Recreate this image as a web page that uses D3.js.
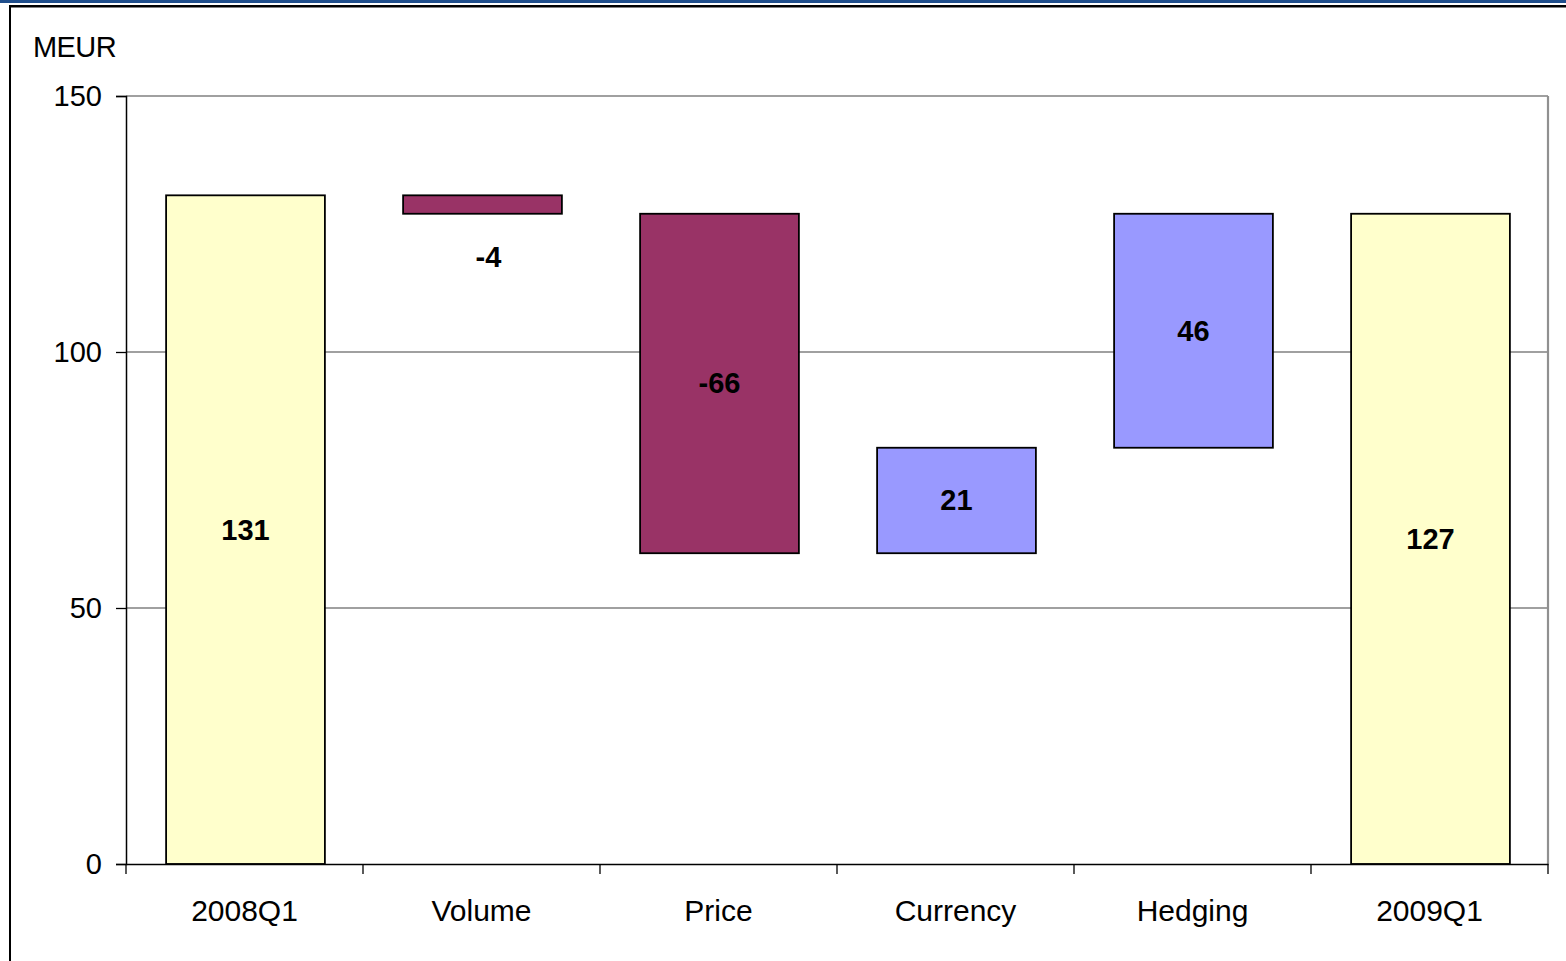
<!DOCTYPE html>
<html>
<head>
<meta charset="utf-8">
<script src="https://cdn.jsdelivr.net/npm/d3@7"></script>
<style>
  html, body { margin: 0; padding: 0; background: #fff; }
  svg { display: block; font-family: "Liberation Sans", Arial, sans-serif; }
</style>
</head>
<body>
<svg id="chart" width="1566" height="961"></svg>
<script>
// waterfall data
const categories = ["2008Q1", "Volume", "Price", "Currency", "Hedging", "2009Q1"]
const kinds = ["total", "delta", "delta", "delta", "delta", "total"]
const values = [130.6, -3.6, -66.3, 20.6, 45.7, 127.0]
const yTicks = [0, 50, 100, 150]

const c_total = "#FFFFCC", c_neg = "#993366", c_pos = "#9999FF"

const svg = d3.select("#chart")
const W = 1566, H = 961
const m = {left: 126, right: 1548, top: 96, bottom: 864}

// frame lines at top / left
svg.append("rect").attr("x", 0).attr("y", 0).attr("width", W).attr("height", 3).attr("fill", "#1f4e8c")
svg.append("rect").attr("x", 9).attr("y", 5).attr("width", W - 9).attr("height", 2.5).attr("fill", "#000")
svg.append("rect").attr("x", 9).attr("y", 5).attr("width", 2).attr("height", H - 5).attr("fill", "#000")

let x = d3.scaleBand().domain(categories).range([m.left, m.right]).paddingInner(0.33).paddingOuter(0.165)
let xTick = d3.scaleBand().domain(categories).range([m.left, m.right])
let y = d3.scaleLinear().domain([0, 150]).range([m.bottom, m.top])

// running totals
let run = 0
const bars = values.map((v, i) => {
  let lo, hi
  if (kinds[i] === "total") { lo = 0; hi = v; run = v }
  else { lo = Math.min(run, run + v); hi = Math.max(run, run + v); run = run + v }
  return {cat: categories[i], kind: kinds[i], v, lo, hi}
})

// gridlines
svg.append("g").selectAll("line").data(yTicks.filter(d => d > 0)).join("line")
  .attr("x1", m.left).attr("x2", m.right)
  .attr("y1", d => y(d)).attr("y2", d => y(d))
  .attr("stroke", "#808080").attr("stroke-width", 1.3)

// right border of plot
svg.append("line").attr("x1", m.right).attr("x2", m.right).attr("y1", m.top).attr("y2", m.bottom)
  .attr("stroke", "#909090").attr("stroke-width", 2.2)

// bars
svg.append("g").selectAll("rect").data(bars).join("rect")
  .attr("x", d => x(d.cat) + 1)
  .attr("width", x.bandwidth())
  .attr("y", d => y(d.hi))
  .attr("height", d => y(d.lo) - y(d.hi))
  .attr("fill", d => d.kind === "total" ? c_total : (d.v < 0 ? c_neg : c_pos))
  .attr("stroke", "#000").attr("stroke-width", 1.8)

// y axis
let yAxis = svg.append("g").attr("transform", `translate(${m.left},0)`)
  .call(d3.axisLeft(y).tickValues(yTicks).tickSize(10).tickPadding(14).tickFormat(d3.format("d")))
yAxis.select(".domain").attr("stroke", "#000").attr("stroke-width", 1.5)
yAxis.selectAll(".tick line").attr("stroke", "#000").attr("stroke-width", 1.3)
yAxis.selectAll("text").attr("font-size", 29).attr("fill", "#000").attr("font-family", "Liberation Sans, Arial, sans-serif")

// x axis
let xAxis = svg.append("g").attr("transform", `translate(0,${m.bottom})`)
  .call(d3.axisBottom(xTick).tickSize(0).tickPadding(36))
xAxis.select(".domain").attr("stroke", "#000").attr("stroke-width", 1.5)
xAxis.selectAll("text").attr("font-size", 30).attr("fill", "#000").attr("font-family", "Liberation Sans, Arial, sans-serif")
svg.append("g").selectAll("line").data(d3.range(categories.length + 1)).join("line")
  .attr("x1", i => m.left + i * xTick.step()).attr("x2", i => m.left + i * xTick.step())
  .attr("y1", m.bottom).attr("y2", m.bottom + 10)
  .attr("stroke", "#000").attr("stroke-width", 1.3)

// value labels
svg.append("g").selectAll("text").data(bars).join("text")
  .attr("x", d => x(d.cat) + 1 + x.bandwidth() / 2 + (d.v < 0 && Math.abs(d.v) < 10 ? 6 : 0))
  .attr("y", d => (y(d.lo) - y(d.hi)) < 40 ? y(d.lo) + 43 : (y(d.lo) + y(d.hi)) / 2)
  .attr("text-anchor", "middle").attr("dominant-baseline", "central")
  .attr("font-size", 29).attr("font-weight", "bold").attr("fill", "#000")
  .text(d => String(Math.round(d.v)))

// unit
svg.append("text").attr("x", 33).attr("y", 57).attr("font-size", 29).attr("letter-spacing", -0.6)
  .attr("fill", "#000").text("MEUR")
</script>
</body>
</html>
